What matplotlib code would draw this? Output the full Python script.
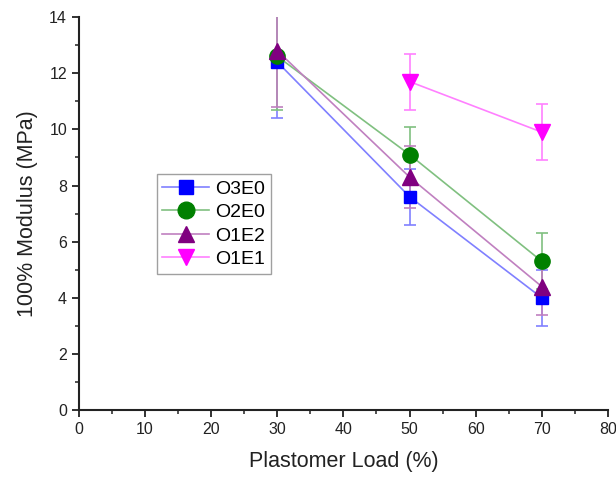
import matplotlib
matplotlib.use("Agg")
import matplotlib.pyplot as plt
from matplotlib.ticker import MultipleLocator
from matplotlib.lines import Line2D

plt.rcParams['font.family'] = ['Liberation Sans', 'DejaVu Sans']

x_vals = [30, 50, 70]
x_o1e1 = [50, 70]
o3e0 = [12.4, 7.6, 4.0]
o3e0_err = [2.0, 1.0, 1.0]
o2e0 = [12.6, 9.1, 5.3]
o2e0_err = [1.9, 1.0, 1.0]
o1e2 = [12.8, 8.3, 4.4]
o1e2_err = [2.0, 1.1, 1.0]
o1e1 = [11.7, 9.9]
o1e1_err = [1.0, 1.0]

fig = plt.figure(figsize=(6.16, 4.86), dpi=100)
ax = fig.add_axes([0.128, 0.156, 0.859, 0.809])

series = [
    ("O3E0", x_vals, o3e0, o3e0_err, "s", "#0000ff", "#8080ff", 9),
    ("O2E0", x_vals, o2e0, o2e0_err, "o", "#008000", "#80c080", 11),
    ("O1E2", x_vals, o1e2, o1e2_err, "^", "#800080", "#c080c0", 11),
    ("O1E1", x_o1e1, o1e1, o1e1_err, "v", "#ff00ff", "#ff80ff", 11),
]
for name, xs, ys, es, m, mc, lc, ms in series:
    ax.errorbar(xs, ys, yerr=es, fmt="none", ecolor=lc, elinewidth=1.2, capsize=4, capthick=1.2, zorder=2)
    ax.plot(xs, ys, color=lc, lw=1.2, zorder=3)
    ax.plot(xs, ys, linestyle="none", marker=m, markersize=ms, color=mc, zorder=4)

handles = [Line2D([], [], color=lc, lw=1.2, marker=m, markersize=ms + 1, markerfacecolor=mc, markeredgecolor=mc)
           for name, xs, ys, es, m, mc, lc, ms in series]
labels = [s[0] for s in series]
leg = ax.legend(handles, labels, loc="upper left", bbox_to_anchor=(0.147, 0.6), frameon=True, fancybox=False,
                edgecolor="#888888", fontsize=14, handlelength=2.4, borderpad=0.3, labelspacing=0.3,
                handletextpad=0.3, borderaxespad=0)
leg.get_frame().set_linewidth(1.0)

ax.set_xlim(0, 80)
ax.set_ylim(0, 14)
ax.xaxis.set_major_locator(MultipleLocator(10))
ax.xaxis.set_minor_locator(MultipleLocator(5))
ax.yaxis.set_major_locator(MultipleLocator(2))
ax.yaxis.set_minor_locator(MultipleLocator(1))
ax.spines['top'].set_visible(False)
ax.spines['right'].set_visible(False)
for s in ['left', 'bottom']:
    ax.spines[s].set_linewidth(1.5)
    ax.spines[s].set_color('#222222')
ax.tick_params(which='major', direction='out', length=5, width=1.3, labelsize=11.5, colors='#222222')
ax.tick_params(which='minor', direction='out', length=3, width=1.1, colors='#222222')

ax.set_xlabel("Plastomer Load (%)", fontsize=15.5, labelpad=10, color='#222222')
ax.set_ylabel("100% Modulus (MPa)", fontsize=15.5, labelpad=8, color='#222222')

fig.savefig("out.png", dpi=100)
